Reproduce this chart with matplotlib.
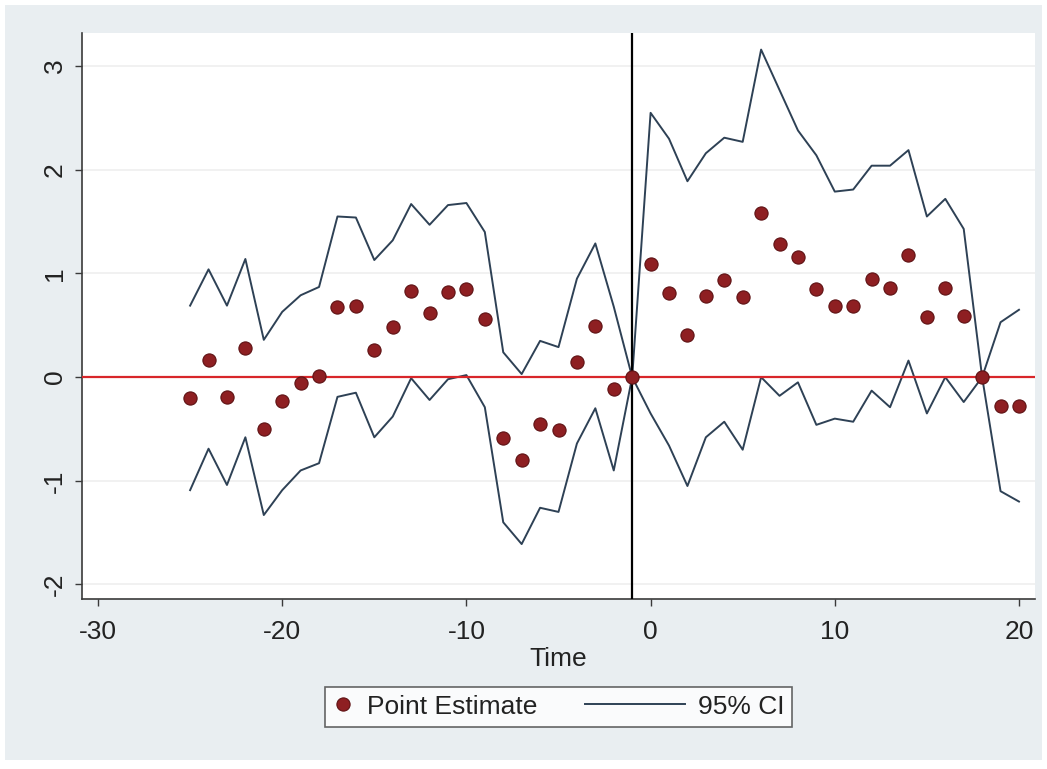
import matplotlib
matplotlib.use("Agg")
import matplotlib.pyplot as plt
from matplotlib.lines import Line2D
from matplotlib.patches import Rectangle
from matplotlib.legend_handler import HandlerBase

# event time
time = list(range(-25, 21))

point_est = [-0.20, 0.17, -0.19, 0.28, -0.50, -0.23, -0.06, 0.01, 0.68, 0.69,
             0.26, 0.48, 0.83, 0.62, 0.82, 0.85, 0.56, -0.59, -0.80, -0.45,
             -0.51, 0.15, 0.49, -0.11, 0.00, 1.09, 0.81, 0.41, 0.78, 0.94,
             0.77, 1.58, 1.28, 1.16, 0.85, 0.69, 0.69, 0.95, 0.86, 1.18,
             0.58, 0.86, 0.59, 0.00, -0.28, -0.28]

ci_upper = [0.69, 1.04, 0.69, 1.14, 0.36, 0.63, 0.79, 0.87, 1.55, 1.54,
            1.13, 1.32, 1.67, 1.47, 1.66, 1.68, 1.40, 0.24, 0.03, 0.35,
            0.29, 0.95, 1.29, 0.68, 0.00, 2.55, 2.30, 1.89, 2.16, 2.31,
            2.27, 3.16, 2.77, 2.38, 2.14, 1.79, 1.81, 2.04, 2.04, 2.19,
            1.55, 1.72, 1.43, 0.00, 0.53, 0.65]

ci_lower = [-1.09, -0.69, -1.04, -0.58, -1.33, -1.09, -0.90, -0.83, -0.19, -0.15,
            -0.58, -0.38, -0.01, -0.22, -0.02, 0.02, -0.29, -1.40, -1.61, -1.26,
            -1.30, -0.64, -0.30, -0.90, 0.00, -0.35, -0.66, -1.05, -0.58, -0.43,
            -0.70, 0.00, -0.18, -0.05, -0.46, -0.40, -0.43, -0.13, -0.29, 0.16,
            -0.35, 0.00, -0.24, 0.00, -1.10, -1.20]

event_time = -1
x_ticks = [-30, -20, -10, 0, 10, 20]
y_ticks = [-2, -1, 0, 1, 2, 3]

MAROON = "#8E1F22"
NAVY = "#2E4155"
BG = "#E9EEF1"
FS = 19


class HandlerLongLine(HandlerBase):
    """legend line that reaches back into the column gap"""

    def __init__(self, extra, **kwargs):
        super().__init__(**kwargs)
        self.extra = extra

    def create_artists(self, legend, orig_handle, xdescent, ydescent,
                       width, height, fontsize, trans):
        y = height / 2 - ydescent
        line = Line2D([-xdescent - self.extra * fontsize, width - xdescent], [y, y],
                      color=orig_handle.get_color(),
                      linewidth=orig_handle.get_linewidth())
        line.set_transform(trans)
        return [line]


plt.rcParams['font.family'] = ['Liberation Sans', 'DejaVu Sans']
plt.rcParams['font.size'] = FS
plt.rcParams['axes.unicode_minus'] = False

fig = plt.figure(figsize=(10.47, 7.69), dpi=100, facecolor="white")
fig.patches.append(Rectangle((5 / 1047, 9 / 769), 1037 / 1047, 755 / 769,
                             transform=fig.transFigure, facecolor=BG,
                             edgecolor="none", zorder=-10))

ax = fig.add_axes([82 / 1047, 1 - 599 / 769, (1035 - 82) / 1047, (599 - 33) / 769])
ax.set_facecolor("white")

for y in y_ticks:
    ax.axhline(y, color="#F0F0F0", linewidth=1.3, zorder=0)

ci_line, = ax.plot(time, ci_upper, color=NAVY, linewidth=1.4, zorder=2)
ax.plot(time, ci_lower, color=NAVY, linewidth=1.4, zorder=2)
ax.axhline(0, color="#D8262A", linewidth=1.6, zorder=3)
ax.axvline(event_time, color="black", linewidth=1.6, zorder=3)
pts, = ax.plot(time, point_est, linestyle="none", marker="o", markersize=9.5,
               markerfacecolor=MAROON, markeredgecolor="#5E1214",
               markeredgewidth=0.8, zorder=4)

ax.set_xlim(-30.87, 20.87)
ax.set_ylim(-2.14, 3.32)
ax.set_xticks(x_ticks)
ax.set_yticks(y_ticks)
ax.set_yticklabels([str(v) for v in y_ticks], rotation=90, va="center")

for side in ["top", "right"]:
    ax.spines[side].set_visible(False)
for side in ["left", "bottom"]:
    ax.spines[side].set_color("#3A3A3A")
    ax.spines[side].set_linewidth(1.2)
ax.tick_params(direction="out", length=5, width=1.0, color="#3A3A3A",
               labelcolor="#222222", labelsize=FS)
ax.tick_params(axis="x", pad=10)
ax.tick_params(axis="y", pad=6)

ax.set_xlabel("Time", fontsize=FS, color="#222222", labelpad=2)

leg = ax.legend([pts, ci_line], ["Point Estimate", "95% CI"],
                loc="upper center", bbox_to_anchor=(0.5, -0.155), ncol=2,
                frameon=True, fancybox=False, fontsize=FS,
                handlelength=0.8, handletextpad=0.5, columnspacing=4.8,
                borderpad=0.3, borderaxespad=0,
                handler_map={ci_line: HandlerLongLine(3.0)})
leg.get_frame().set_edgecolor("#404040")
leg.get_frame().set_linewidth(1.2)
for t in leg.get_texts():
    t.set_color("#222222")

fig.savefig("out.png", dpi=100, facecolor=fig.get_facecolor())
